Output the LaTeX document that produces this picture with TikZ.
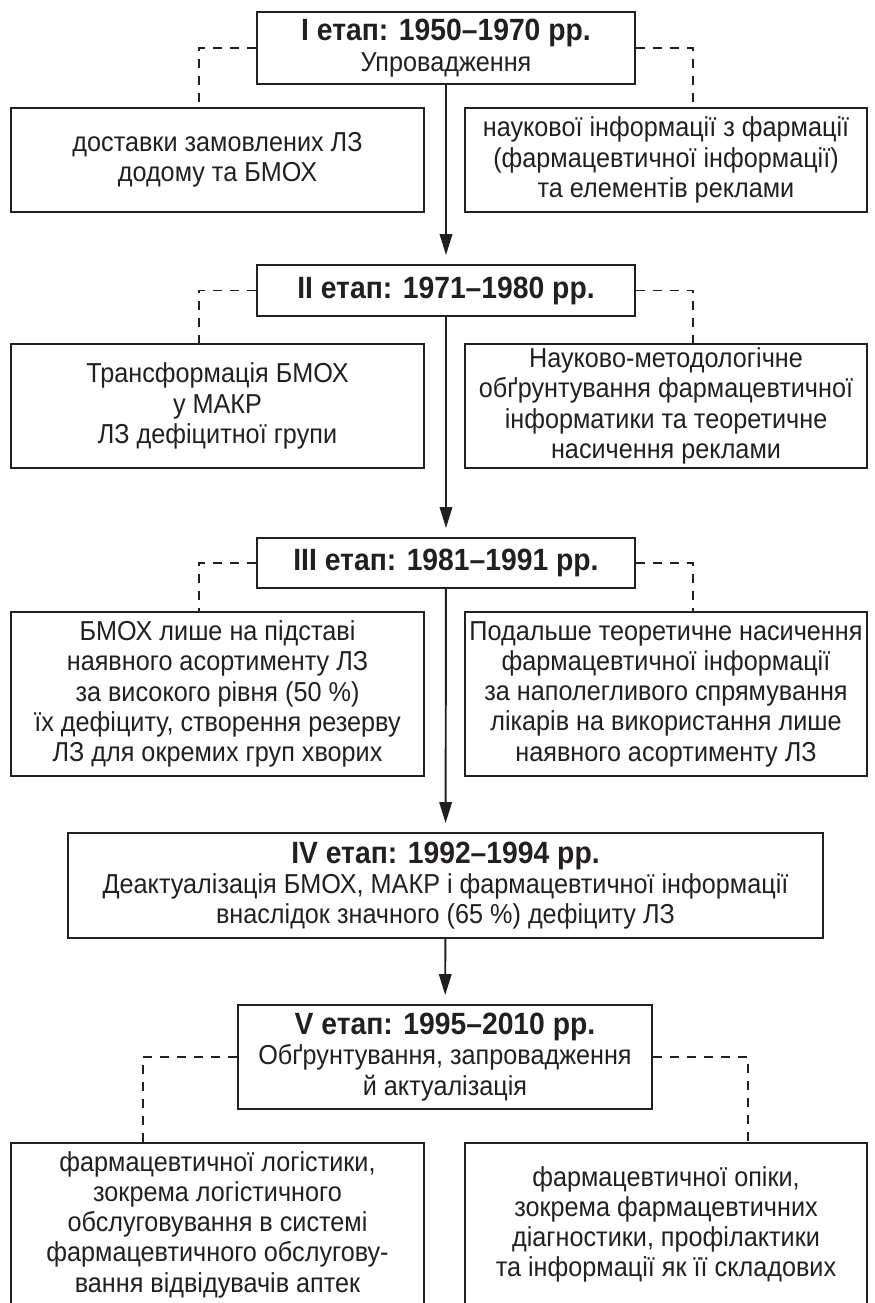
\documentclass[tikz,border=0pt]{standalone}
\usepackage{fontspec}
\setmainfont{Liberation Sans}[FakeStretch=0.92]
\usetikzlibrary{arrows.meta}
\definecolor{ink}{HTML}{231F20}
\newcommand{\etaphead}[1]{{\fontsize{17.5}{19}\selectfont\bfseries #1}}

\begin{document}
\begin{tikzpicture}[transform shape, scale=1]

\tikzset{
  box/.style={draw=ink, line width=1.1pt, inner sep=0pt, align=center, text=ink,
    font=\fontsize{15.6}{17.2}\selectfont},
  wide/.style={minimum width=7.56cm},
  side/.style={minimum width=8.26cm},
  sider/.style={minimum width=8.04cm},
  boxedg/.style={draw=ink, line width=1.1pt, -{Triangle[length=0.42cm,width=0.25cm]}, shorten >=0.18cm},
  dashedg/.style={draw=ink, line width=1pt, dash pattern=on 0.18cm off 0.16cm},
}

\clip (0,0) rectangle (17.48,-26.06);

\node[box,wide,minimum height=1.44cm,name=et1] at (8.92,-0.96) {\etaphead{I етап: 1950–1970 рр.}\\Упровадження};
\node[box,side,minimum height=2.08cm,name=et1l] at (4.35,-3.2) {доставки замовлених ЛЗ\\додому та БМОХ};
\node[box,sider,minimum height=2.08cm,name=et1r] at (13.32,-3.2) {наукової інформації з фармації\\(фармацевтичної інформації)\\та елементів реклами};

\node[box,wide,minimum height=1.02cm,name=et2] at (8.92,-5.81) {\etaphead{II етап: 1971–1980 рр.}};
\node[box,side,minimum height=2.48cm,name=et2l] at (4.35,-8.12) {Трансформація БМОХ\\у МАКР\\ЛЗ дефіцитної групи};
\node[box,sider,minimum height=2.48cm,name=et2r] at (13.32,-8.12) {Науково-методологічне\\обґрунтування фармацевтичної\\інформатики та теоретичне\\насичення реклами};

\node[box,wide,minimum height=1.0cm,name=et3] at (8.92,-11.26) {\etaphead{III етап: 1981–1991 рр.}};
\node[box,side,minimum height=3.28cm,name=et3l] at (4.35,-13.88) {БМОХ лише на підставі\\наявного асортименту ЛЗ\\за високого рівня (50~\%)\\їх дефіциту, створення резерву\\ЛЗ для окремих груп хворих};
\node[box,sider,minimum height=3.28cm,name=et3r] at (13.32,-13.88) {Подальше теоретичне насичення\\фармацевтичної інформації\\за наполегливого спрямування\\лікарів на використання лише\\наявного асортименту ЛЗ};

\node[box,minimum width=15.1cm,minimum height=2.1cm,name=et4] at (8.91,-17.71) {\etaphead{IV етап: 1992–1994 рр.}\\Деактуалізація БМОХ, МАКР і фармацевтичної інформації\\внаслідок значного (65~\%) дефіциту ЛЗ};

\node[box,minimum width=8.28cm,minimum height=2.08cm,name=et5] at (8.9,-21.14) {\etaphead{V етап: 1995–2010 рр.}\\Обґрунтування, запровадження\\й актуалізація};
\node[box,side,minimum height=3.26cm,name=et5l] at (4.35,-24.49) {фармацевтичної логістики,\\зокрема логістичного\\обслуговування в системі\\фармацевтичного обслугову-\\вання відвідувачів аптек};
\node[box,sider,minimum height=3.26cm,name=et5r] at (13.32,-24.49) {фармацевтичної опіки,\\зокрема фармацевтичних\\діагностики, профілактики\\та інформації як її складових};

% dashed branch ends on the box tops
\coordinate (t1l) at (3.98,-2.16);
\coordinate (t1r) at (13.86,-2.16);
\coordinate (t2l) at (3.98,-6.88);
\coordinate (t2r) at (13.86,-6.88);
\coordinate (t3l) at (3.98,-12.24);
\coordinate (t3r) at (13.86,-12.24);
\coordinate (t5l) at (2.86,-22.86);
\coordinate (t5r) at (14.96,-22.86);

\draw[dashedg] (et1.west) -| (t1l);
\draw[dashedg] (et1.east) -| (t1r);
\draw[dashedg] (et2.west) -| (t2l);
\draw[dashedg] (et2.east) -| (t2r);
\draw[dashedg] (et3.west) -| (t3l);
\draw[dashedg] (et3.east) -| (t3r);
\draw[dashedg] (et5.west) -| (t5l);
\draw[dashedg] (et5.east) -| (t5r);

\draw[boxedg] (et1) -- (et2);
\draw[boxedg] (et2) -- (et3);
\draw[boxedg] (et3) -- (et4);
\draw[boxedg] (et4) -- (et5);

\end{tikzpicture}
\end{document}
